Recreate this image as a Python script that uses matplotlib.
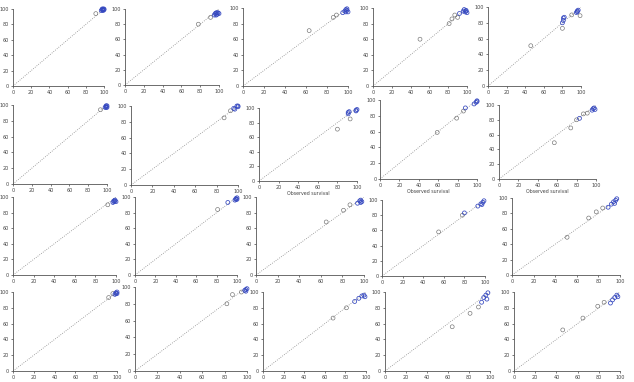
import matplotlib
matplotlib.use('Agg')
import matplotlib.pyplot as plt

# observed vs predicted survival, one entry per panel (row-major, 4 x 5)
grey_pts = [
    [(91, 94)],
    [(78, 80), (91, 89)],
    [(63, 71), (86, 88), (89, 91)],
    [(50, 60), (81, 80), (84, 86), (87, 91), (90, 88)],
    [(46, 51), (80, 73), (90, 90), (99, 89)],
    [(93, 94)],
    [(87, 85), (93, 94)],
    [(80, 71), (93, 85)],
    [(59, 59), (79, 77), (86, 86)],
    [(57, 49), (74, 69), (80, 80), (87, 88), (91, 89)],
    [(92, 90)],
    [(81, 84)],
    [(65, 68), (81, 83), (87, 90)],
    [(55, 58), (78, 80)],
    [(51, 49), (71, 74), (78, 82), (84, 87)],
    [(92, 93), (96, 98)],
    [(82, 80), (87, 91), (95, 94)],
    [(68, 67), (81, 80)],
    [(64, 56), (81, 73), (89, 81)],
    [(46, 52), (65, 67), (79, 82), (85, 87)],
]
blue_pts = [
    [(97, 98), (98, 99), (99, 100), (100, 99), (99, 98), (98, 100), (100, 100), (99, 99)],
    [(95, 92), (96, 94), (97, 95), (98, 93), (99, 95), (100, 94), (97, 92), (98, 95)],
    [(95, 94), (97, 96), (98, 98), (99, 97), (100, 95), (99, 99), (98, 95)],
    [(92, 93), (96, 96), (97, 98), (98, 95), (99, 97), (100, 94), (99, 96)],
    [(80, 80), (81, 83), (81, 86), (82, 87), (95, 93), (96, 95), (97, 96), (96, 94)],
    [(98, 97), (99, 98), (100, 99), (99, 99), (100, 97), (99, 97)],
    [(96, 97), (97, 96), (100, 100), (100, 99), (99, 100)],
    [(91, 92), (91, 94), (92, 95), (99, 97), (100, 98), (99, 96)],
    [(88, 90), (97, 95), (99, 97), (100, 98), (100, 99)],
    [(83, 82), (96, 93), (97, 95), (98, 96), (99, 94)],
    [(97, 93), (98, 95), (99, 96), (100, 94), (99, 95), (98, 94)],
    [(91, 93), (98, 96), (99, 98), (100, 99), (99, 97), (100, 97)],
    [(94, 92), (96, 95), (97, 96), (98, 94), (97, 93)],
    [(80, 83), (93, 92), (96, 95), (98, 97), (99, 99), (97, 94)],
    [(89, 88), (92, 92), (94, 95), (96, 97), (97, 99), (95, 93)],
    [(98, 97), (99, 99), (100, 100), (100, 98), (99, 98)],
    [(98, 96), (99, 97), (100, 98), (99, 95)],
    [(89, 88), (93, 92), (96, 95), (98, 96), (99, 94)],
    [(92, 87), (94, 93), (96, 96), (98, 99), (97, 91)],
    [(91, 86), (93, 90), (95, 93), (97, 96), (98, 94)],
]
ticks = [0, 20, 40, 60, 80, 100]
xlabel_panels = [7, 8, 9]
xlabel_text = 'Observed survival'

# axes boxes in pixels: x at 0, x at 100, y at 100, y at 0
boxes = [
    (13, 104, 9, 86), (125, 219, 9, 85), (243, 348, 8, 86), (373, 467, 8, 86), (488, 581, 7, 86),
    (13, 107, 105, 184), (131, 238, 106, 185), (259, 357, 108, 181), (380, 477, 100, 179), (499, 596, 105, 179),
    (13, 116, 197, 275), (135, 237, 197, 275), (256, 364, 197, 275), (382, 485, 200, 276), (512, 620, 198, 275),
    (13, 117, 292, 371), (135, 247, 287, 371), (263, 366, 292, 371), (385, 490, 292, 371), (514, 620, 292, 371),
]

W, H = 634, 382
fig = plt.figure(figsize=(W / 100, H / 100), dpi=100)
fig.patch.set_facecolor('white')

for i, (x0, x1, yt, yb) in enumerate(boxes):
    ax = fig.add_axes([x0 / W, 1 - yb / H, (x1 - x0) / W, (yb - yt) / H])
    ax.plot([0, 100], [0, 100], ls=':', color='#8a8a8a', lw=0.6)
    gx, gy = zip(*grey_pts[i])
    bx, by = zip(*blue_pts[i])
    ax.scatter(gx, gy, s=8, facecolors='none', edgecolors='#707070',
               linewidths=0.45, clip_on=False, zorder=3)
    ax.scatter(bx, by, s=8, facecolors='none', edgecolors='#3548c0',
               linewidths=0.55, clip_on=False, zorder=4)
    ax.set_xlim(0, 100)
    ax.set_ylim(0, 100)
    ax.set_xticks(ticks)
    ax.set_yticks(ticks)
    for s in ['top', 'right']:
        ax.spines[s].set_visible(False)
    for s in ['left', 'bottom']:
        ax.spines[s].set_color('#555555')
        ax.spines[s].set_linewidth(0.6)
    ax.tick_params(labelsize=3.5, length=1.5, width=0.5, pad=1.2,
                   colors='#444444')
    if i in xlabel_panels:
        ax.set_xlabel(xlabel_text, fontsize=3.4, color='#444444', labelpad=1)

fig.savefig('out.png', dpi=100)
